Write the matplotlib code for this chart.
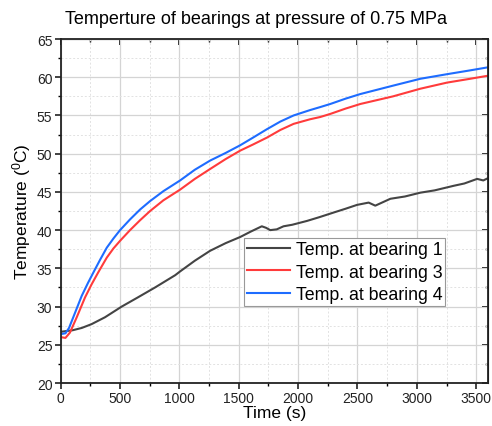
import matplotlib
matplotlib.use("Agg")
import matplotlib.pyplot as plt
from matplotlib.ticker import MultipleLocator

plt.rcParams['font.family'] = ['Liberation Sans', 'DejaVu Sans']
plt.rcParams['mathtext.fontset'] = 'custom'
plt.rcParams['mathtext.rm'] = 'Liberation Sans'

title = "Temperture of bearings at pressure of 0.75 MPa"
xlabel = "Time (s)"
ylabel = "Temperature ($\\mathregular{^{0}}$C)"
labels = ["Temp. at bearing 1", "Temp. at bearing 3", "Temp. at bearing 4"]

t1 = [0, 100, 177, 260, 373, 514, 650, 795, 964, 1006, 1130, 1259, 1390, 1512, 1600, 1694,
      1730, 1765, 1820, 1877, 1950, 2074, 2180, 2299, 2400, 2496, 2594, 2650, 2777, 2900, 3030,
      3150, 3311, 3400, 3508, 3560, 3600]
v1 = [26.7, 26.9, 27.2, 27.7, 28.6, 30.0, 31.2, 32.5, 34.1, 34.6, 36.0, 37.3, 38.3, 39.1, 39.8, 40.5,
      40.3, 40.0, 40.1, 40.5, 40.7, 41.2, 41.7, 42.3, 42.8, 43.3, 43.6, 43.2, 44.1, 44.4, 44.9,
      45.2, 45.8, 46.1, 46.7, 46.5, 46.8]

t3 = [0, 40, 78, 135, 205, 260, 317, 388, 444, 500, 584, 669, 753, 865, 1006, 1130, 1259, 1390, 1512,
      1620, 1737, 1850, 1962, 2100, 2187, 2271, 2400, 2524, 2800, 3030, 3255, 3450, 3600]
v3 = [26.0, 25.9, 26.6, 28.6, 31.2, 32.9, 34.5, 36.4, 37.6, 38.6, 40.0, 41.3, 42.5, 43.9, 45.3, 46.7, 48.0, 49.3, 50.4,
      51.2, 52.1, 53.1, 53.9, 54.5, 54.8, 55.2, 55.9, 56.5, 57.5, 58.5, 59.3, 59.8, 60.2]

t4 = [0, 40, 70, 121, 177, 230, 280, 331, 388, 444, 500, 584, 669, 753, 865, 1006, 1130, 1259, 1390, 1512,
      1620, 1737, 1850, 1962, 2100, 2187, 2271, 2400, 2524, 2800, 3030, 3255, 3450, 3600]
v4 = [26.4, 26.5, 27.2, 29.2, 31.4, 33.1, 34.6, 36.1, 37.7, 38.9, 40.0, 41.4, 42.7, 43.8, 45.1, 46.5, 47.9, 49.1, 50.1, 51.1,
      52.1, 53.2, 54.2, 55.0, 55.7, 56.1, 56.5, 57.2, 57.8, 58.9, 59.8, 60.4, 60.9, 61.3]

colors = ["#444444", "#ff3b3b", "#1e6cff"]

fig = plt.figure(figsize=(4.92, 4.27), dpi=100)
ax = fig.add_axes([0.1234, 0.1007, 0.8686, 0.8056])

for t, v, c, lab in zip([t1, t3, t4], [v1, v3, v4], colors, labels):
    ax.plot(t, v, color=c, lw=1.5, label=lab)

ax.set_xlim(0, 3600)
ax.set_ylim(20, 65)
ax.xaxis.set_major_locator(MultipleLocator(500))
ax.xaxis.set_minor_locator(MultipleLocator(250))
ax.yaxis.set_major_locator(MultipleLocator(5))
ax.yaxis.set_minor_locator(MultipleLocator(2.5))
ax.grid(which='major', color='#d4d4d4', lw=0.9)
ax.grid(which='minor', color='#e2e2e2', lw=0.7, ls=(0, (2, 2)))
ax.set_axisbelow(True)

ax.tick_params(which='major', direction='out', length=4, width=1.2, labelsize=10, pad=2, colors='#222222')
ax.tick_params(which='minor', direction='out', length=2.2, width=1.0)
for s in ax.spines.values():
    s.set_linewidth(1.3)
    s.set_color('#222222')

secx = ax.secondary_xaxis('top')
secx.xaxis.set_major_locator(MultipleLocator(500))
secx.xaxis.set_minor_locator(MultipleLocator(250))
secx.tick_params(which='major', direction='in', length=4, width=1.2, labeltop=False)
secx.tick_params(which='minor', direction='in', length=2.2, width=1.0)
secy = ax.secondary_yaxis('right')
secy.yaxis.set_major_locator(MultipleLocator(5))
secy.yaxis.set_minor_locator(MultipleLocator(2.5))
secy.tick_params(which='major', direction='in', length=4, width=1.2, labelright=False)
secy.tick_params(which='minor', direction='in', length=2.2, width=1.0)

ax.set_xlabel(xlabel, fontsize=12.5, labelpad=0)
ax.set_ylabel(ylabel, fontsize=12.5, labelpad=3)
fig.text(256 / 492, 1 - 20 / 427, title, fontsize=13, ha='center', va='center')

leg = ax.legend(loc='lower left', bbox_to_anchor=(0.430, 0.224), fontsize=12.8, frameon=True,
                fancybox=False, edgecolor='#999999', framealpha=1, handlelength=2.4,
                borderpad=0.15, labelspacing=0.32, handletextpad=0.35, borderaxespad=0)
leg.get_frame().set_linewidth(0.8)

fig.savefig("out.png", dpi=100)
